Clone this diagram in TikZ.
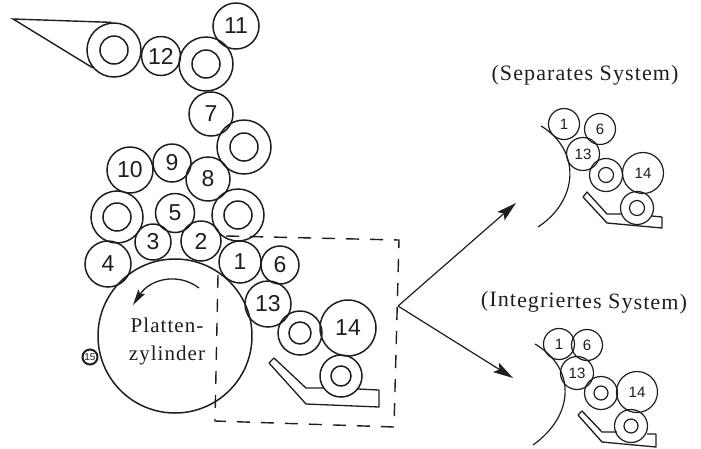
\documentclass[tikz,border=0pt]{standalone}
\usepackage{fontspec}
\setmainfont{Liberation Serif}
\setsansfont{Liberation Sans}
\newfontfamily\wideserif[LetterSpace=5]{Liberation Serif}
\usetikzlibrary{arrows.meta}
\definecolor{ink}{HTML}{1e1e1e}
\tikzset{
	roller/.style={draw=ink, circle, line width=1.5pt, inner sep=0pt, text=ink, font=\sffamily\fontsize{23}{23}\selectfont},
	smallroller/.style={roller, line width=1.2pt, font=\sffamily\fontsize{15}{15}\selectfont},
	tray/.style={draw=ink, line width=1.3pt, line join=round},
	caption/.style={text=ink, font=\wideserif\fontsize{22}{22}\selectfont},
	feed/.style={draw=ink, line width=1.2pt, -{Stealth[length=20pt,width=11pt,inset=4pt]}}
}

\begin{document}
\begin{tikzpicture}[x=1pt, y=-1pt]
	\useasboundingbox (0,0) rectangle (701,448);

	% main cylinder
	\node[roller, minimum size=154pt] (plate) at (175,336) {};
	\node[text=ink, align=center, font=\wideserif\fontsize{21}{28}\selectfont] (platetext) at (167,341) {Platten-\\zylinder};
	\draw[draw=ink, line width=1.3pt, -{Stealth[length=16pt,width=8pt,inset=3pt]}] (199,288) .. controls (178,272) and (150,279) .. (133,305);
	\node[roller, line width=2pt, minimum size=15pt, font=\sffamily\fontsize{10}{10}\selectfont] (n15) at (90,357) {15};

	% numbered rollers
	\foreach \rname/\x/\y/\r in { 1/240/262/21, 2/201/241/20, 3/153/242/18, 4/108/264/23, 5/175/213/19.5, 6/280/265/19, 7/211/114/22, 8/208/179/22, 9/172/163/19, 10/130/170/23, 11/236/26/23, 12/161/56/19.5, 13/268/304/23, 14/348/328/28 }
		\node[roller, minimum size={2*\r*1pt}] (n\rname) at (\x,\y) {\rname};

	% rollers with a core
	\foreach \rname/\x/\y/\r/\c in { a/114/50/27/14, b/206/64/27/14, c/244/147/27/14, d/117/217/26/14, e/238/215/26/14, f/300/333/22/11, g/341/376/21/10 } {
		\node[roller, minimum size={2*\r*1pt}] (r\rname) at (\x,\y) {};
		\node[roller, minimum size={2*\c*1pt}] (c\rname) at (\x,\y) {};
	}

	% web
	\coordinate (webtip) at (13,19);
	\draw[draw=ink, line width=1.4pt] (ra.95) -- (webtip) -- (ra.220);

	% tray
	\draw[tray] (323,388) -- (306,388) -- (274,358) -- (269,363) -- (306,404) -- (379,407) -- (379,390) -- (358,389);

	% dashed frame
	\coordinate (f1) at (218,275);
	\coordinate (f2) at (215,421);
	\coordinate (f3) at (394,427);
	\coordinate (f4) at (399,240);
	\coordinate (f5) at (226,236);
	\draw[draw=ink, line width=1.4pt, dash pattern=on 13pt off 11pt] (f1) -- (f2) -- (f3) -- (f4) -- (f5);

	% arrows
	\coordinate (fork) at (398,306);
	\coordinate (sepend) at (516,203);
	\coordinate (intend) at (513,378);
	\draw[feed] (fork) -- (sepend);
	\draw[feed] (fork) -- (intend);

	% separates system
	\node[caption] (septitle) at (585,75) {(Separates System)};
	\coordinate (sep1) at (541,126);
	\coordinate (sep2) at (538,227);
	\draw[draw=ink, line width=1.2pt] (sep1) .. controls (581,150) and (579,200) .. (sep2);
	\foreach \rname/\x/\y/\r in { 1/564/124/15.5, 6/600/129/15.5, 13/583/154/16.5, 14/643/173/20.5 }
		\node[smallroller, minimum size={2*\r*1pt}] (s\rname) at (\x,\y) {\rname};
	\foreach \rname/\x/\y in { f/606/175, g/637/208 } {
		\node[smallroller, minimum size=33pt] (sr\rname) at (\x,\y) {};
		\node[smallroller, minimum size=15pt] (sc\rname) at (\x,\y) {};
	}
	\draw[tray] (622,214) -- (607,214) -- (587,192) -- (583,197) -- (607,223) -- (662,228) -- (662,217) -- (652,216);

	% integriertes system
	\node[caption, rotate=-1] (inttitle) at (584,303) {(Integriertes System)};
	\coordinate (int1) at (535,344);
	\coordinate (int2) at (533,445);
	\draw[draw=ink, line width=1.2pt] (int1) .. controls (576,368) and (575,415) .. (int2);
	\foreach \rname/\x/\y/\r in { 1/559/344/15.5, 6/587/345/15.5, 13/577/373/16.5, 14/637/392/20.5 }
		\node[smallroller, minimum size={2*\r*1pt}] (i\rname) at (\x,\y) {\rname};
	\foreach \rname/\x/\y in { f/601/393, g/631/426 } {
		\node[smallroller, minimum size=33pt] (ir\rname) at (\x,\y) {};
		\node[smallroller, minimum size=14pt] (ic\rname) at (\x,\y) {};
	}
	\draw[tray] (617,432) -- (602,432) -- (582,411) -- (578,415) -- (602,442) -- (656,447) -- (656,434) -- (647,434);
\end{tikzpicture}
\end{document}
